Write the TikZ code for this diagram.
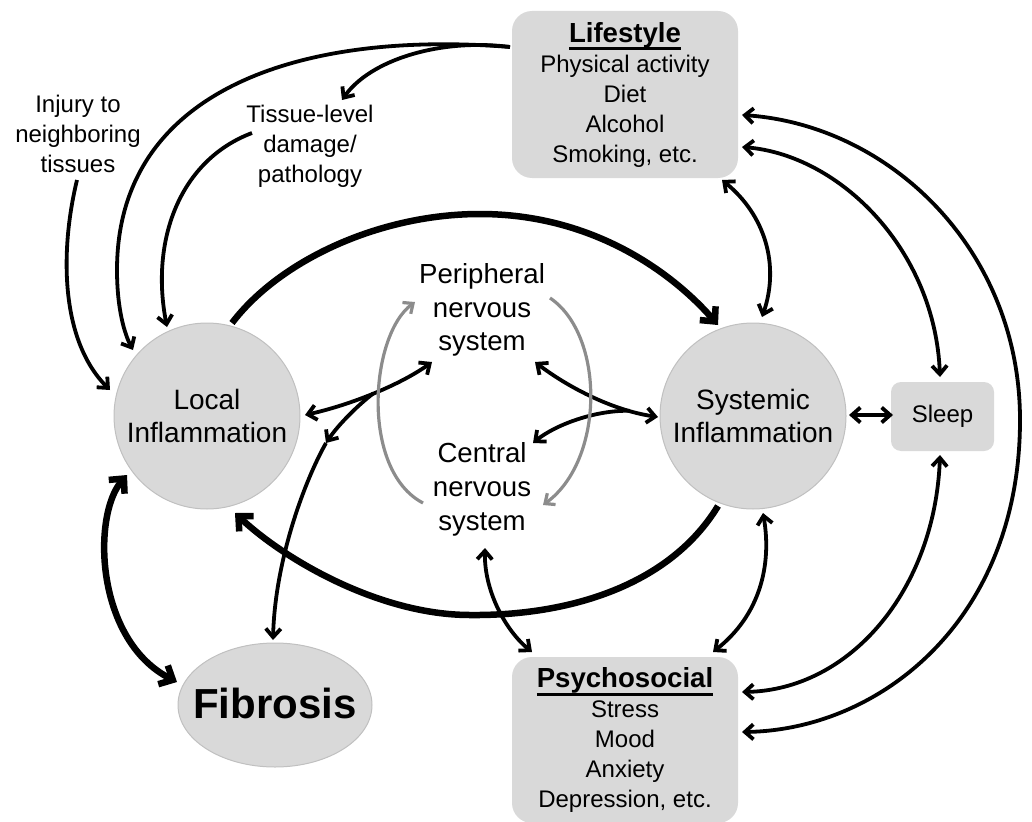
\documentclass[tikz,border=0pt]{standalone}
\usepackage{fontspec}
\setmainfont{Liberation Sans}
\usetikzlibrary{arrows.meta,shapes.geometric}
\definecolor{ngray}{RGB}{217,217,217}
\definecolor{nedge}{RGB}{192,192,192}
\definecolor{garrow}{RGB}{140,140,140}
\newcommand\myul[1]{\setbox0\hbox{#1}\rlap{\vrule height -5.3pt depth 8pt width \wd0}\box0}
\begin{document}
\begin{tikzpicture}[x=1pt,y=-1pt,
  bubble/.style={circle,fill=ngray,draw=nedge,line width=1pt,minimum size=186pt,inner sep=0pt,align=center,font=\fontsize{28}{33.5}\selectfont},
  infobox/.style={rectangle,rounded corners=20pt,fill=ngray,inner sep=0pt,align=center,font=\fontsize{24}{30}\selectfont},
  lbl/.style={align=center,inner sep=0pt,font=\fontsize{24}{30}\selectfont},
  nslbl/.style={align=center,inner sep=0pt,font=\fontsize{27.6}{33.7}\selectfont},
  conn/.style={line width=3.8pt,>={Straight Barb[length=8.5pt,width=15pt]}},
  thk/.style={line width=6.5pt,>={Straight Barb[length=11pt,width=21pt]}},
  grey/.style={line width=3.2pt,draw=garrow,>={Straight Barb[length=8pt,width=14pt]}}
]
\useasboundingbox (0,0) rectangle (1032,821);

% nodes
\node[bubble] (local) at (207,416) {Local\\Inflammation};
\node[bubble] (sys) at (753,416) {Systemic\\Inflammation};
\node[infobox,rounded corners=10pt,minimum width=103pt,minimum height=69pt] (sleep) at (942.5,416.5) {Sleep};
\node[infobox,minimum width=226pt,minimum height=167pt] (life) at (625,94.5)
  {{\fontsize{27.6}{30}\selectfont\bfseries\myul{Lifestyle}}\\Physical activity\\Diet\\Alcohol\\Smoking, etc.};
\node[infobox,minimum width=226pt,minimum height=166pt] (psych) at (625,740)
  {{\fontsize{27.6}{30}\selectfont\bfseries\myul{Psychosocial}}\\Stress\\Mood\\Anxiety\\Depression, etc.};
\node[ellipse,fill=ngray,draw=nedge,line width=1pt,minimum width=194pt,minimum height=124pt,inner sep=0pt,
      text height=26pt,text depth=0pt,font=\fontsize{42}{50}\selectfont\bfseries] (fib) at (275,705) {\makebox[0pt][c]{Fibrosis}};
\node[lbl] (injury) at (78,134) {Injury to\\neighboring\\tissues};
\node[lbl] (tissue) at (310,146) {Tissue-level\\damage/\\pathology};
\node[nslbl] (pns) at (482,310) {Peripheral\\nervous\\system};
\node[nslbl] (cns) at (482,489.5) {Central\\nervous\\system};

% lifestyle -> local (long arc)
\draw[conn,->] ([shift={(-115,-47.5)}]life.center) .. controls (300,30) and (117,90) .. (117,270)
   .. controls (117,310) and (125,335) .. ([shift={(-74,-66)}]local.center);
% lifestyle -> tissue-level
\draw[conn,->] ([shift={(-115,-47.5)}]life.center) .. controls (440,38) and (370,60) .. ([shift={(32,-46)}]tissue.center);
% tissue -> local
\draw[conn,->] ([shift={(-58,-13)}]tissue.center) .. controls (180,160) and (150,240) .. ([shift={(-40,-89)}]local.center);
% injury -> local
\draw[conn,->] ([shift={(-1,46)}]injury.center) .. controls (60,250) and (60,340) .. ([shift={(-97,-26)}]local.center);

% thick local -> systemic
\draw[thk,->] ([shift={(25,-93)}]local.center) .. controls (280,260) and (380,214) .. (480,214)
   .. controls (590,214) and (670,270) .. ([shift={(-35,-91)}]sys.center);
% thick systemic -> local
\draw[thk,->] ([shift={(-35,90)}]sys.center) .. controls (670,585) and (570,616) .. (470,615)
   .. controls (380,615) and (285,560) .. ([shift={(28,97)}]local.center);
% local <-> fibrosis
\draw[thk,<->] ([shift={(-80,59)}]local.center) .. controls (92,515) and (95,640) .. ([shift={(-98,-23)}]fib.center);

% lifestyle <-> systemic
\draw[conn,<->] ([shift={(97,85.5)}]life.center) .. controls (765,215) and (780,265) .. ([shift={(9,-99)}]sys.center);
% lifestyle <-> psychosocial (outer)
\draw[conn,<->] ([shift={(117,20.5)}]life.center) .. controls (890,125) and (1020,250) .. (1020,420)
   .. controls (1020,620) and (880,730) .. ([shift={(117,-8)}]psych.center);
% lifestyle <-> sleep
\draw[conn,<->] ([shift={(117,52.5)}]life.center) .. controls (840,155) and (935,250) .. ([shift={(-2.5,-39.5)}]sleep.center);
% systemic <-> sleep
\draw[conn,<->] ([shift={(96,-1)}]sys.center) -- ([shift={(-49.5,-1.5)}]sleep.center);
% sleep <-> psychosocial
\draw[conn,<->] ([shift={(-2.5,38.5)}]sleep.center) .. controls (935,590) and (850,690) .. ([shift={(117,-48)}]psych.center);
% systemic <-> psychosocial
\draw[conn,<->] ([shift={(10,97)}]sys.center) .. controls (772,565) and (760,615) .. ([shift={(88,-88)}]psych.center);
% cns <-> psychosocial
\draw[conn,<->] ([shift={(3,58.5)}]cns.center) .. controls (484,590) and (505,630) .. ([shift={(-93,-88)}]psych.center);

% pns <-> local, with branch to fibrosis
\draw[conn,<->] ([shift={(-50,52)}]pns.center) .. controls (400,385) and (350,405) .. ([shift={(98,-1)}]local.center)
   coordinate[pos=0.5] (br1);
\coordinate (fbk) at (326,443);
\draw[conn,->] (br1) .. controls (358,405) and (338,425) .. (fbk);
\draw[conn,->] (fbk) .. controls (305,480) and (275,560) .. ([shift={(-2,-65)}]fib.center);

% pns <-> systemic, with branch to cns
\draw[conn,<->] ([shift={(53,52)}]pns.center) .. controls (565,385) and (610,410) .. ([shift={(-95,1)}]sys.center)
   coordinate[pos=0.8] (br2);
\draw[conn,->] (br2) .. controls (595,410) and (555,425) .. ([shift={(51,-46.5)}]cns.center);

% grey arcs between nervous systems
\draw[grey,->] ([shift={(-59,13.5)}]cns.center) .. controls (360,470) and (370,335) .. ([shift={(-67,-8)}]pns.center);
\draw[grey,->] ([shift={(68,-12)}]pns.center) .. controls (605,335) and (605,460) .. ([shift={(61,15.5)}]cns.center);
\end{tikzpicture}
\end{document}
